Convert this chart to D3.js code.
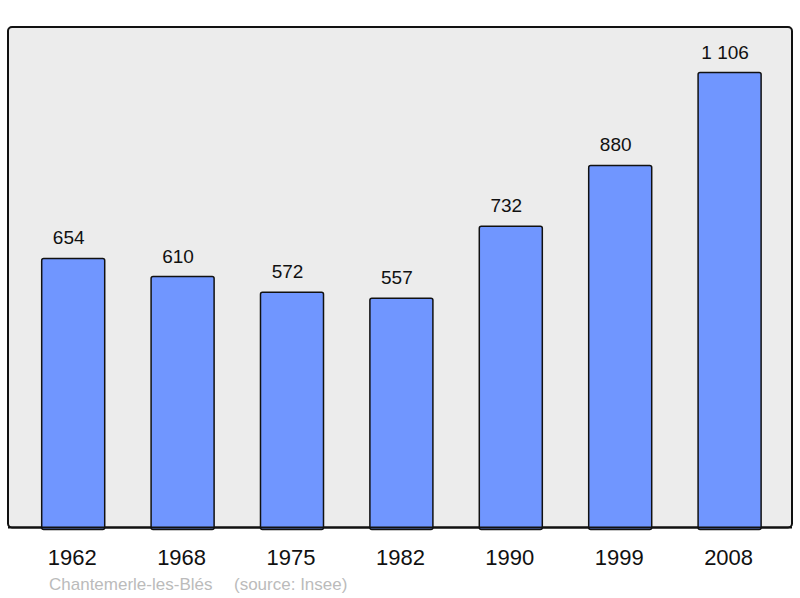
<html>
<head>
<meta charset="utf-8">
<script src="https://d3js.org/d3.v7.min.js"></script>
<style>
body {margin: 0; background: #fff;}
text {font-family: "Liberation Sans", Arial, sans-serif;}
</style>
</head>
<body>
<svg id="chart" width="800" height="598"></svg>
<script>
// population data
var years = ["1962", "1968", "1975", "1982", "1990", "1999", "2008"];
var population = [654, 610, 572, 557, 732, 880, 1106];
var commune = "Chantemerle-les-Blés";
var source = "(source: Insee)";

var frame = {left: 8, top: 27, right: 792, bottom: 527.5};

var svg = d3.select("#chart");

// background frame
svg.append("rect")
  .attr("x", frame.left)
  .attr("y", frame.top)
  .attr("width", frame.right - frame.left)
  .attr("height", frame.bottom - frame.top)
  .attr("rx", 4)
  .style("fill", "#ececec")
  .style("stroke", "#111")
  .style("stroke-width", 2);

var x = d3.scaleBand()
  .domain(years)
  .range([18.5, 784.3])
  .paddingInner(0.424)
  .paddingOuter(0.212);

var y = d3.scaleLinear()
  .domain([0, d3.max(population) * 1.1])
  .range([frame.bottom, frame.top]);

var data = years.map(function(d, i) { return {year: d, value: population[i]}; });

// bars
svg.append("g").selectAll("rect")
  .data(data)
  .enter()
  .append("rect")
  .attr("x", function(d) { return x(d.year); })
  .attr("y", function(d) { return y(d.value); })
  .attr("width", x.bandwidth())
  .attr("height", function(d) { return frame.bottom - y(d.value) + 2; })
  .attr("rx", 2)
  .style("fill", "#7096ff")
  .style("stroke", "#111")
  .style("stroke-width", 1.5);

// redraw bottom edge of frame over the bars
svg.append("line")
  .attr("x1", frame.left)
  .attr("x2", frame.right)
  .attr("y1", frame.bottom)
  .attr("y2", frame.bottom)
  .style("stroke", "#111")
  .style("stroke-width", 2);

// value labels (sit a little left of the bar centre, like the original)
var fmt = function(v) { return d3.format(",")(v).replace(",", " "); };
svg.append("g").selectAll("text")
  .data(data)
  .enter()
  .append("text")
  .attr("x", function(d) { return x(d.year) + x.bandwidth() / 2 - 4.5; })
  .attr("y", function(d) { return y(d.value) - 14; })
  .style("text-anchor", "middle")
  .style("font-size", "19px")
  .style("fill", "#111")
  .text(function(d) { return fmt(d.value); });

// year axis
var xAxis = d3.axisBottom(x).tickSize(0).tickPadding(0);
var gx = svg.append("g")
  .attr("transform", "translate(0," + frame.bottom + ")")
  .call(xAxis);
gx.select(".domain").remove();
gx.selectAll("text")
  .attr("dy", null)
  .attr("y", 37.5)
  .attr("x", -1)
  .style("font-size", "22px")
  .style("font-family", "'Liberation Sans', Arial, sans-serif")
  .style("fill", "#111");

// footer
svg.append("text")
  .attr("x", 49)
  .attr("y", 590)
  .style("font-size", "17px")
  .style("fill", "#bbb")
  .text(commune);
svg.append("text")
  .attr("x", 234)
  .attr("y", 590)
  .style("font-size", "17px")
  .style("fill", "#bbb")
  .text(source);
</script>
</body>
</html>
